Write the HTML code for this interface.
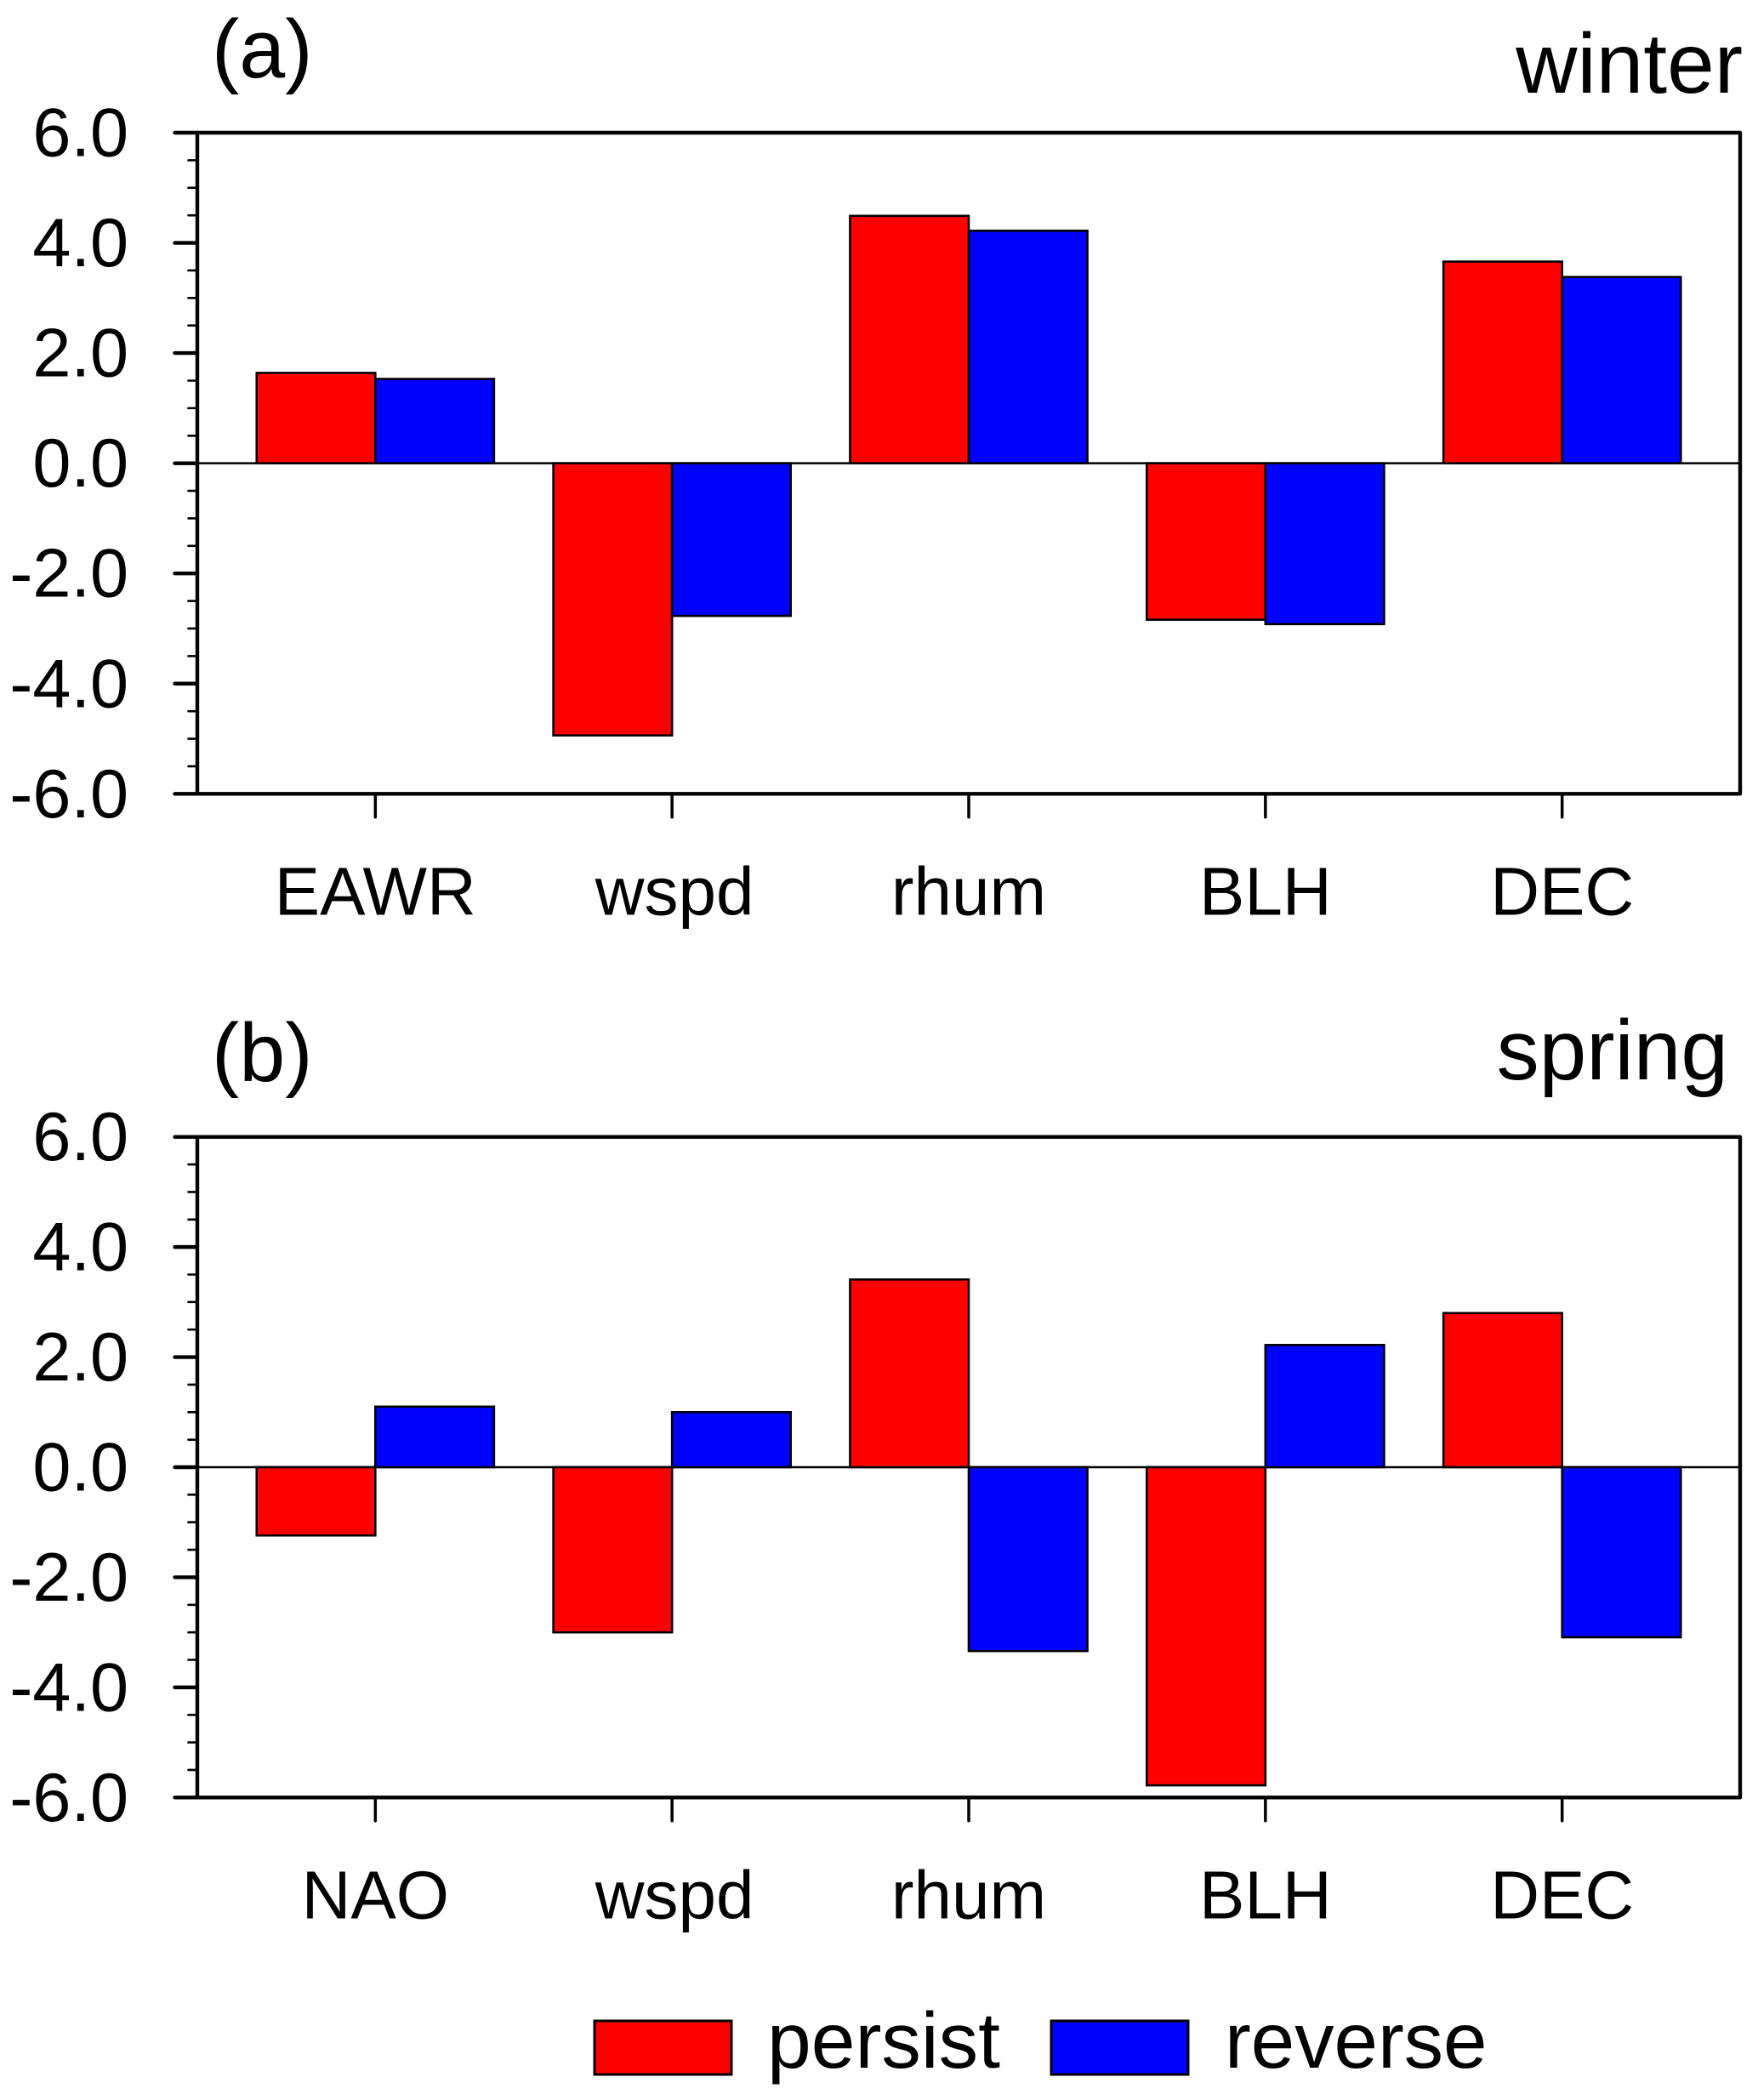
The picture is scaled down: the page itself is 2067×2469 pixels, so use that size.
<!DOCTYPE html>
<html lang="en">
<head>
<meta charset="utf-8">
<title>Winter and spring persist and reverse bar charts</title>
<style>
  html, body { margin: 0; padding: 0; background: #fff; }
  svg { display: block; }
  text { font-family: "Liberation Sans", Arial, sans-serif; fill: #000; }
</style>
</head>
<body>
<svg id="figure" xmlns="http://www.w3.org/2000/svg" width="2067" height="2469" viewBox="0 0 2067 2469">
  <rect x="0" y="0" width="2067" height="2469" fill="#fff"/>
  <text x="249" y="91" font-size="97">(a)</text>
  <text x="2049" y="109" font-size="100" text-anchor="end">winter</text>
  <text x="249" y="1271" font-size="97">(b)</text>
  <text x="2032" y="1269" font-size="100" text-anchor="end">spring</text>
  <g id="panel-a"></g>
  <g id="panel-b"></g>
  <g>
    <rect x="699" y="2376" width="161" height="63" fill="#ff0000" stroke="#000" stroke-width="3"/>
    <text x="902" y="2431" font-size="93">persist</text>
    <rect x="1236" y="2376" width="161" height="63" fill="#0000ff" stroke="#000" stroke-width="3"/>
    <text x="1440" y="2431" font-size="92.5">reverse</text>
  </g>
</svg>
<script>
const yTickValues = [6, 4, 2, 0, -2, -4, -6];
const yTickLabels = ["6.0", "4.0", "2.0", "0.0", "-2.0", "-4.0", "-6.0"];
const yMinorValues = [5.5, 5, 4.5, 3.5, 3, 2.5, 1.5, 1, 0.5, -0.5, -1, -1.5, -2.5, -3, -3.5, -4.5, -5, -5.5];

const categoriesWinter = ["EAWR", "wspd", "rhum", "BLH", "DEC"];
const persistWinter = [1.64, -4.94, 4.49, -2.84, 3.66];
const reverseWinter = [1.53, -2.77, 4.22, -2.92, 3.38];

const categoriesSpring = ["NAO", "wspd", "rhum", "BLH", "DEC"];
const persistSpring = [-1.24, -3.0, 3.41, -5.78, 2.80];
const reverseSpring = [1.10, 1.0, -3.34, 2.22, -3.09];

const SVG_NS = "http://www.w3.org/2000/svg";
const plotLeft = 232;
const plotRight = 2046;
const xDomainMin = 0.4;
const xDomainMax = 5.6;
const yDomainMax = 6;
const yDomainMin = -6;
const barWidthUnits = 0.4;

function make(tag, attrs, parent) {
  const el = document.createElementNS(SVG_NS, tag);
  for (const key in attrs) el.setAttribute(key, attrs[key]);
  parent.appendChild(el);
  return el;
}

function drawPanel(panelId, top, bottom, categories, persist, reverse) {
  const root = document.getElementById(panelId);
  const xScale = function (v) {
    return plotLeft + (v - xDomainMin) / (xDomainMax - xDomainMin) * (plotRight - plotLeft);
  };
  const yScale = function (v) {
    return top + (yDomainMax - v) / (yDomainMax - yDomainMin) * (bottom - top);
  };
  const zero = yScale(0);

  const zeroLine = make("line", { x1: plotLeft, x2: plotRight, y1: zero, y2: zero, stroke: "#000", "stroke-width": 2.5 }, root);
  
  

  categories.forEach(function (cat, i) {
    const center = i + 1;
    const persistY = yScale(persist[i]);
    const persistBar = make("rect", {
      x: xScale(center - barWidthUnits),
      y: Math.min(persistY, zero),
      width: xScale(center) - xScale(center - barWidthUnits),
      height: Math.abs(persistY - zero),
      fill: "#ff0000", stroke: "#000", "stroke-width": 2.6
    }, root);
    
    

    const reverseY = yScale(reverse[i]);
    const reverseBar = make("rect", {
      x: xScale(center),
      y: Math.min(reverseY, zero),
      width: xScale(center + barWidthUnits) - xScale(center),
      height: Math.abs(reverseY - zero),
      fill: "#0000ff", stroke: "#000", "stroke-width": 2.6
    }, root);
    
    

    const tick = make("line", {
      x1: xScale(center), x2: xScale(center), y1: bottom, y2: bottom + 27.5,
      stroke: "#000", "stroke-width": 3.5, "stroke-linecap": "round"
    }, root);
    
    

    const label = make("text", {
      x: xScale(center) + (cat === "wspd" ? 3 : 0), y: bottom + 142, "font-size": 80, "text-anchor": "middle"
    }, root);
    label.textContent = cat;
    
    
  });

  yMinorValues.forEach(function (v) {
    const minor = make("line", {
      x1: 221.5, x2: plotLeft, y1: yScale(v), y2: yScale(v),
      stroke: "#000", "stroke-width": 2.6, "stroke-linecap": "round"
    }, root);
    
    
  });

  yTickValues.forEach(function (v, i) {
    const major = make("line", {
      x1: 205.5, x2: plotLeft, y1: yScale(v), y2: yScale(v),
      stroke: "#000", "stroke-width": 4.4, "stroke-linecap": "round"
    }, root);
    
    

    const label = make("text", {
      x: 151, y: yScale(v) + 27.5, "font-size": 81, "text-anchor": "end"
    }, root);
    label.textContent = yTickLabels[i];
    
    
  });

  const frame = make("rect", {
    x: plotLeft, y: top, width: plotRight - plotLeft, height: bottom - top,
    fill: "none", stroke: "#000", "stroke-width": 4.4, "stroke-linejoin": "round"
  }, root);
  
  
}

drawPanel("panel-a", 156, 933.3, categoriesWinter, persistWinter, reverseWinter);
drawPanel("panel-b", 1336.7, 2113.3, categoriesSpring, persistSpring, reverseSpring);
</script>
</body>
</html>
